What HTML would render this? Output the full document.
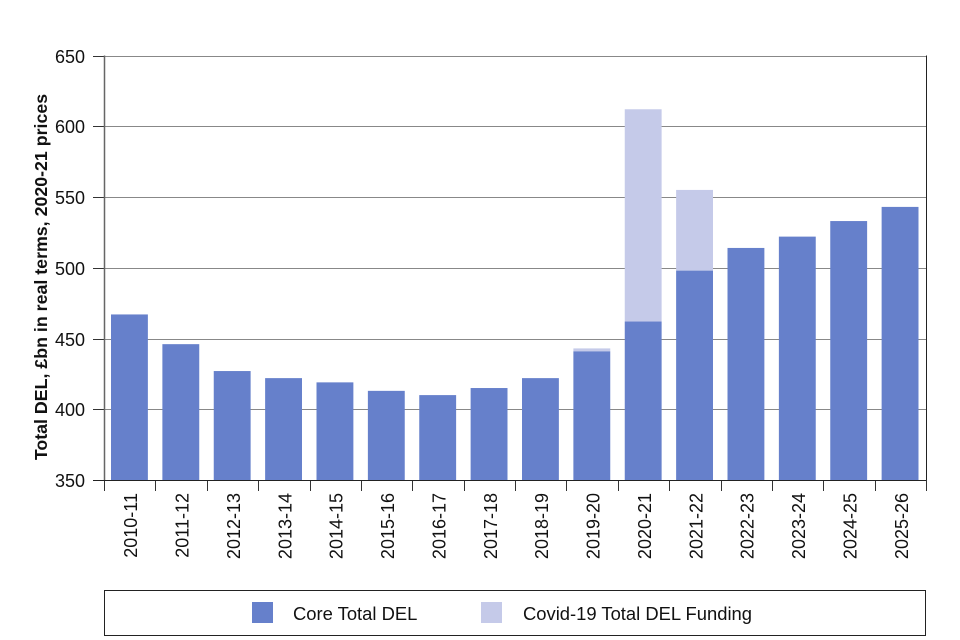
<!DOCTYPE html>
<html><head><meta charset="utf-8">
<style>
html,body{margin:0;padding:0;background:#fff;}
svg{display:block;font-family:"Liberation Sans",Arial,sans-serif;}
</style></head>
<body>
<svg id="chart" width="960" height="640" viewBox="0 0 960 640" xmlns="http://www.w3.org/2000/svg">
  <g id="grid"></g>
  <g id="bars"></g>
  <g id="axes"></g>
  <text transform="translate(47,277) rotate(-90)" text-anchor="middle" font-size="17.8" font-weight="bold" fill="#111">Total DEL, £bn in real terms, 2020-21 prices</text>
  <g>
    <rect x="104.5" y="590.5" width="821" height="45" fill="#fff" stroke="#222" stroke-width="1"/>
    <rect x="252" y="602" width="21" height="21" fill="#6680cb"/>
    <text x="293" y="620" font-size="18.4" fill="#111">Core Total DEL</text>
    <rect x="481" y="602" width="21" height="21" fill="#c5cae9"/>
    <text x="523" y="620" font-size="18.4" fill="#111">Covid-19 Total DEL Funding</text>
  </g>
</svg>
<script>
const categories = ["2010-11","2011-12","2012-13","2013-14","2014-15","2015-16","2016-17","2017-18","2018-19","2019-20","2020-21","2021-22","2022-23","2023-24","2024-25","2025-26"];
const coreValues = [467,446,427,422,419,413,410,415,422,441,462,498,514,522,533,543];
const covidValues = [0,0,0,0,0,0,0,0,0,2,150,57,0,0,0,0];
const yTicks = [350,400,450,500,550,600,650];

const NS = "http://www.w3.org/2000/svg";
const X0 = 104, X1 = 926, Y0 = 480, Y1 = 55.5, YMIN = 350, YMAX = 650;
const bw = (X1 - X0) / categories.length;
function y(v){ return Y0 - (v - YMIN) / (YMAX - YMIN) * (Y0 - Y1); }
function xc(i){ return X0 + bw * i; }
function mk(tag, attrs, parent){ const e = document.createElementNS(NS, tag); for (const k in attrs) e.setAttribute(k, attrs[k]); parent.appendChild(e); return e; }

const grid = document.getElementById('grid');
const bars = document.getElementById('bars');
const axes = document.getElementById('axes');

yTicks.forEach(t => {
  const yy = Math.round(y(t)) + 0.5;
  if (t !== YMIN) {
    const g = mk('line', {x1: X0, x2: X1, y1: yy, y2: yy, stroke: '#888', 'stroke-width': 1}, grid);
    
    
  }
  const tk = mk('line', {x1: 93, x2: X0, y1: yy, y2: yy, stroke: '#333', 'stroke-width': 1}, axes);
  
  
  const lb = mk('text', {x: 85, y: yy + 6.5, 'text-anchor': 'end', 'font-size': 18, fill: '#111'}, axes);
  lb.textContent = t;
  
  
});

categories.forEach((c, i) => {
  const bx = xc(i) + 7, w = bw - 14.5;
  const core = mk('rect', {x: bx, y: y(coreValues[i]), width: w, height: Y0 - y(coreValues[i]), fill: '#6680cb'}, bars);
  
  
  if (covidValues[i] > 0) {
    const top = y(coreValues[i] + covidValues[i]);
    const cv = mk('rect', {x: bx, y: top, width: w, height: y(coreValues[i]) - top, fill: '#c5cae9'}, bars);
    
    
  }
  const tx = Math.round(xc(i + 1)) + 0.5;
  const tk = mk('line', {x1: tx, x2: tx, y1: Y0, y2: 491, stroke: '#333', 'stroke-width': 1}, axes);
  
  
  const cx = xc(i) + bw / 2 + 7.5;
  const lb = mk('text', {transform: 'translate(' + cx + ',493) rotate(-90)', 'text-anchor': 'end', 'font-size': 18, fill: '#111'}, axes);
  lb.textContent = c;
  
  
});
const t0 = mk('line', {x1: X0 + 0.5, x2: X0 + 0.5, y1: Y0, y2: 491, stroke: '#333'}, axes);



const yl = mk('line', {x1: X0 + 0.5, x2: X0 + 0.5, y1: Y1, y2: Y0, stroke: '#666', 'stroke-width': 1.5}, axes);


const rl = mk('line', {x1: X1 + 0.5, x2: X1 + 0.5, y1: Y1, y2: Y0, stroke: '#222', 'stroke-width': 1}, axes);


const xl = mk('line', {x1: 93, x2: X1, y1: Y0 + 0.5, y2: Y0 + 0.5, stroke: '#222', 'stroke-width': 1}, axes);


</script>
</body></html>
